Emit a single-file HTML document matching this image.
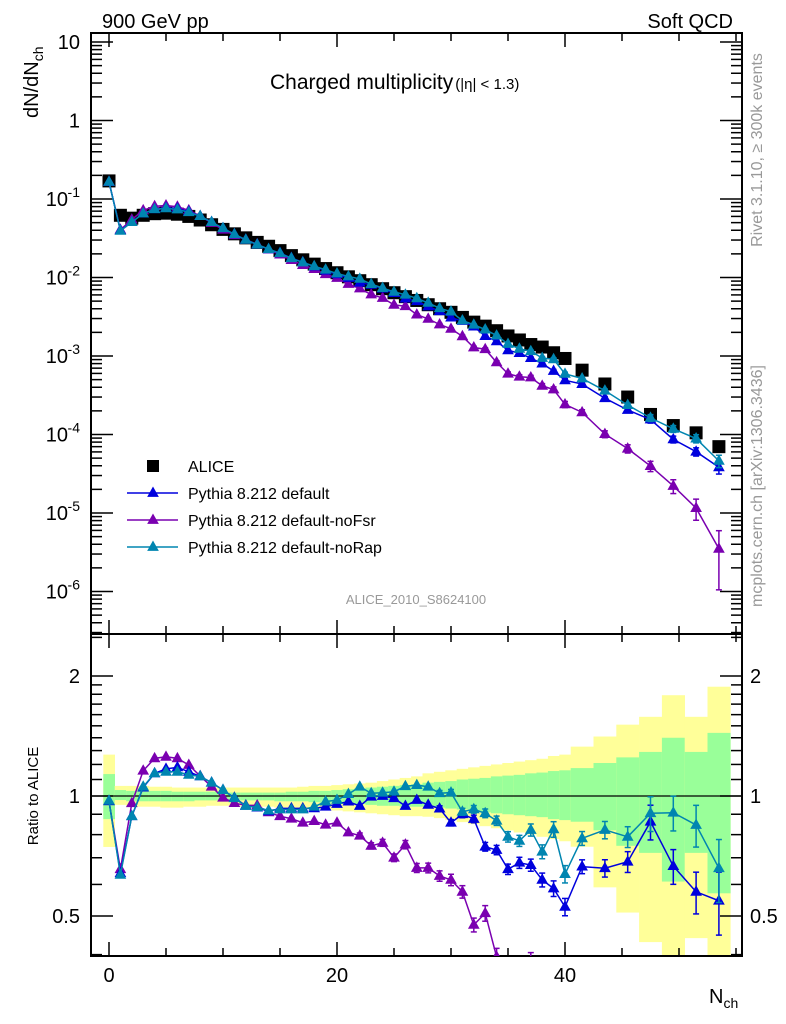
<!DOCTYPE html>
<html><head><meta charset="utf-8">
<style>
html,body{margin:0;padding:0;background:#fff;overflow:hidden;}
svg{display:block;font-family:"Liberation Sans",sans-serif;}
</style></head>
<body>
<svg id="chart" width="786" height="1024" viewBox="0 0 786 1024" xmlns="http://www.w3.org/2000/svg">
<g id="bands"></g>
<g id="grid"></g>
<g id="series"></g>
<text x="102" y="28" font-size="20">900 GeV pp</text>
<text x="733" y="28" font-size="20" text-anchor="end">Soft QCD</text>
<text x="270" y="89" font-size="21">Charged multiplicity<tspan font-size="15" dx="2">(|η| &lt; 1.3)</tspan></text>
<text transform="translate(762,150) rotate(-90)" font-size="16" fill="#999" text-anchor="middle">Rivet 3.1.10, ≥ 300k events</text>
<text transform="translate(762,486) rotate(-90)" font-size="16" fill="#999" text-anchor="middle">mcplots.cern.ch [arXiv:1306.3436]</text>
<text x="416" y="604" font-size="13" fill="#999" text-anchor="middle">ALICE_2010_S8624100</text>
<text transform="translate(38,118) rotate(-90)" font-size="20">dN/dN<tspan font-size="14" dy="5">ch</tspan></text>
<text transform="translate(38,796) rotate(-90)" font-size="15" text-anchor="middle">Ratio to ALICE</text>
<text x="709" y="1003" font-size="20">N<tspan font-size="14" dy="5">ch</tspan></text>
<g id="legend"></g>
</svg>
<script>
// ---- data ----
const nch = [0,1,2,3,4,5,6,7,8,9,10,11,12,13,14,15,16,17,18,19,20,21,22,23,24,25,26,27,28,29,30,31,32,33,34,35,36,37,38,39,40,41.5,43.5,45.5,47.5,49.5,51.5,53.5];
const binWidth = [1,1,1,1,1,1,1,1,1,1,1,1,1,1,1,1,1,1,1,1,1,1,1,1,1,1,1,1,1,1,1,1,1,1,1,1,1,1,1,1,1,2,2,2,2,2,2,2];
const alice = [0.17,0.062,0.057,0.062,0.065,0.066,0.064,0.060,0.054,0.047,0.041,0.036,0.032,0.028,0.025,0.022,0.019,0.0168,0.0148,0.013,0.0115,0.0102,0.0091,0.0081,0.0072,0.0064,0.0057,0.0051,0.0045,0.0040,0.0036,0.0031,0.0027,0.0024,0.0021,0.0018,0.0016,0.0014,0.0013,0.0011,0.00093,0.00066,0.00044,0.00030,0.00018,0.00013,0.000105,0.00007];
const ratioDefault = [0.97,0.64,0.89,1.05,1.14,1.17,1.18,1.15,1.12,1.08,1.035,0.99,0.945,0.935,0.915,0.931,0.931,0.931,0.931,0.94,0.955,0.968,0.944,0.996,1.0,0.987,0.944,0.977,0.95,0.93,0.857,0.90,0.876,0.746,0.732,0.655,0.68,0.671,0.616,0.586,0.527,0.665,0.659,0.684,0.862,0.667,0.575,0.546];
const ratioNoFsr = [0.97,0.655,0.959,1.157,1.243,1.254,1.243,1.196,1.122,1.055,0.99,0.96,0.947,0.947,0.91,0.89,0.877,0.857,0.865,0.847,0.857,0.81,0.795,0.75,0.763,0.70,0.755,0.66,0.66,0.63,0.616,0.575,0.475,0.508,0.395,0.33,0.34,0.38,0.32,0.34,0.26,0.29,0.23,0.22,0.22,0.17,0.11,0.05];
const ratioNoRap = [0.973,0.634,0.89,1.055,1.14,1.15,1.15,1.13,1.12,1.08,1.035,0.987,0.944,0.937,0.92,0.925,0.925,0.925,0.94,0.968,0.977,1.011,1.055,1.016,1.019,1.025,1.058,1.065,1.055,1.016,1.02,0.913,0.926,0.905,0.867,0.79,0.772,0.822,0.725,0.825,0.637,0.783,0.822,0.79,0.905,0.908,0.846,0.659];
const relErr = [0.005,0.005,0.005,0.005,0.005,0.005,0.005,0.005,0.005,0.005,0.005,0.005,0.005,0.006,0.006,0.006,0.007,0.007,0.008,0.008,0.009,0.01,0.01,0.011,0.012,0.012,0.013,0.014,0.015,0.016,0.018,0.02,0.022,0.025,0.027,0.03,0.032,0.035,0.04,0.045,0.05,0.04,0.05,0.06,0.1,0.1,0.12,0.18];
const relErrNoFsr = [0.005,0.005,0.005,0.005,0.005,0.005,0.005,0.005,0.005,0.005,0.005,0.006,0.006,0.007,0.008,0.008,0.009,0.01,0.011,0.012,0.013,0.015,0.016,0.018,0.02,0.022,0.024,0.026,0.028,0.03,0.033,0.036,0.04,0.045,0.05,0.055,0.06,0.065,0.07,0.08,0.09,0.08,0.1,0.12,0.15,0.2,0.3,0.7];
const yellowHi = [1.27,1.06,1.06,1.06,1.055,1.055,1.05,1.05,1.05,1.05,1.05,1.05,1.05,1.05,1.05,1.05,1.05,1.055,1.06,1.06,1.065,1.07,1.075,1.08,1.09,1.1,1.11,1.12,1.14,1.15,1.16,1.17,1.18,1.19,1.2,1.21,1.22,1.23,1.24,1.26,1.27,1.33,1.41,1.51,1.58,1.79,1.58,1.88];
const yellowLo = [0.745,0.95,0.94,0.94,0.94,0.935,0.935,0.94,0.94,0.945,0.945,0.945,0.94,0.94,0.94,0.935,0.935,0.93,0.93,0.925,0.92,0.915,0.91,0.905,0.9,0.895,0.89,0.89,0.887,0.88,0.87,0.86,0.85,0.84,0.83,0.82,0.81,0.80,0.79,0.78,0.77,0.746,0.59,0.51,0.43,0.35,0.44,0.35];
const greenHi = [1.135,1.035,1.03,1.03,1.03,1.03,1.025,1.025,1.025,1.025,1.02,1.02,1.02,1.02,1.02,1.02,1.025,1.025,1.03,1.03,1.035,1.04,1.045,1.05,1.055,1.06,1.065,1.07,1.08,1.085,1.09,1.1,1.105,1.11,1.12,1.125,1.13,1.14,1.145,1.155,1.16,1.175,1.21,1.25,1.29,1.4,1.29,1.44];
const greenLo = [0.875,0.977,0.97,0.97,0.97,0.97,0.97,0.97,0.975,0.975,0.975,0.975,0.975,0.975,0.975,0.97,0.97,0.97,0.965,0.96,0.96,0.955,0.955,0.95,0.945,0.945,0.94,0.94,0.94,0.935,0.93,0.925,0.92,0.91,0.905,0.9,0.895,0.89,0.885,0.875,0.87,0.862,0.82,0.75,0.72,0.61,0.72,0.57];
const topTickLabels = ["10","1","10","10","10","10","10","10"];
const topTickExps = ["","","-1","-2","-3","-4","-5","-6"];
const ratioTickLabels = ["0.5","1","2"];
const xTickLabels = ["0","20","40"];

// ---- axes ----
const X0=91, X1=742, TOPY0=33, TOPY1=634, RY0=634, RY1=956;
const xS = n => 109 + 11.4*n;
const yTop = v => 42 - 78.5*(Math.log10(v) - 1);
const yR = r => 796 - 398.6*Math.log10(r);
const NS="http://www.w3.org/2000/svg";
function mk(tag, attrs, parent){const e=document.createElementNS(NS,tag);for(const k in attrs)e.setAttribute(k,attrs[k]);parent.appendChild(e);return e;}
const bands=document.getElementById('bands'), grid=document.getElementById('grid'), ser=document.getElementById('series'), leg=document.getElementById('legend');

const defs=mk('defs',{},document.getElementById('chart'));
const cp=mk('clipPath',{id:'rclip'},defs);
mk('rect',{x:X0,y:RY0,width:X1-X0,height:RY1-RY0},cp);
const cpt=mk('clipPath',{id:'tclip'},defs);
mk('rect',{x:X0,y:TOPY0,width:X1-X0,height:TOPY1-TOPY0},cpt);
bands.setAttribute('clip-path','url(#rclip)');
for(let i=0;i<nch.length;i++){
  const xa=xS(nch[i]-binWidth[i]/2), xb=xS(nch[i]+binWidth[i]/2);
  const r1=mk('rect',{x:xa,y:yR(yellowHi[i]),width:xb-xa+0.3,height:yR(yellowLo[i])-yR(yellowHi[i]),fill:'#ffff99'},bands);
  
  
  const r2=mk('rect',{x:xa,y:yR(greenHi[i]),width:xb-xa+0.3,height:yR(greenLo[i])-yR(greenHi[i]),fill:'#99ff99'},bands);
  
  
}
mk('line',{x1:X0,x2:X1,y1:yR(1),y2:yR(1),stroke:'#000','stroke-width':1.2},grid);

mk('rect',{x:X0,y:TOPY0,width:X1-X0,height:TOPY1-TOPY0,fill:'none',stroke:'#000','stroke-width':2},grid);
mk('rect',{x:X0,y:RY0,width:X1-X0,height:RY1-RY0,fill:'none',stroke:'#000','stroke-width':2},grid);
for(let n=0;n<=55;n+=5){
  const x=xS(n), major=(n%20===0), L=major?14:8;
  [[TOPY1,-1],[TOPY0,1],[RY1,-1],[RY0,1]].forEach(([y,d])=>mk('line',{x1:x,x2:x,y1:y,y2:y+d*L,stroke:'#000','stroke-width':1.5},grid));
}
xTickLabels.forEach((t,i)=>{const e=mk('text',{x:xS(i*20),y:982,'font-size':20,'text-anchor':'middle'},grid);e.textContent=t;
  
  });
for(let d=1;d>=-7;d--){
  for(let m=1;m<=9;m++){
    const v=m*Math.pow(10,d), y=yTop(v);
    if(y<TOPY0||y>TOPY1) continue;
    const L=(m===1)?22:11;
    mk('line',{x1:X0,x2:X0+L,y1:y,y2:y,stroke:'#000','stroke-width':1.5},grid);
    mk('line',{x1:X1,x2:X1-L,y1:y,y2:y,stroke:'#000','stroke-width':1.5},grid);
  }
}
topTickLabels.forEach((t,i)=>{
  const y=yTop(Math.pow(10,1-i));
  const e=mk('text',{x:i<2?80:68,y:y+7,'font-size':20,'text-anchor':'end'},grid);
  e.textContent=t;
  
  
  if(topTickExps[i]){const s=mk('text',{x:80,y:y-2,'font-size':14,'text-anchor':'end'},grid);s.textContent=topTickExps[i];
    
    }
});
const rt=[0.4,0.5,0.6,0.7,0.8,0.9,1,1.1,1.2,1.3,1.4,1.5,1.6,1.7,1.8,1.9,2,2.5];
rt.forEach(r=>{const y=yR(r); if(y<RY0||y>RY1)return; const L=(r===0.5||r===1||r===2)?22:11;
  mk('line',{x1:X0,x2:X0+L,y1:y,y2:y,stroke:'#000','stroke-width':1.5},grid);
  mk('line',{x1:X1,x2:X1-L,y1:y,y2:y,stroke:'#000','stroke-width':1.5},grid);});
ratioTickLabels.forEach(t=>{const y=yR(parseFloat(t))+7;
  const a=mk('text',{x:80,y:y,'font-size':20,'text-anchor':'end'},grid);a.textContent=t;
  
  
  const b=mk('text',{x:750,y:y,'font-size':20},grid);b.textContent=t;
  
  });

function tri(g,x,y,c,s){mk('polygon',{points:`${x},${y-s} ${x-s*0.9},${y+s*0.6} ${x+s*0.9},${y+s*0.6}`,fill:c},g);}
function drawSeries(ratio,err,color,name){
  const gt=mk('g',{'clip-path':'url(#tclip)'},ser);
  
  
  const gr=mk('g',{'clip-path':'url(#rclip)'},ser);
  
  
  const ptsT=[],ptsR=[];
  ratio.forEach((r,i)=>{ptsT.push(xS(nch[i])+','+yTop(alice[i]*r));ptsR.push(xS(nch[i])+','+yR(r));});
  mk('polyline',{points:ptsT.join(' '),fill:'none',stroke:color,'stroke-width':1.5},gt);
  mk('polyline',{points:ptsR.join(' '),fill:'none',stroke:color,'stroke-width':1.5},gr);
  ratio.forEach((r,i)=>{
    const x=xS(nch[i]), v=alice[i]*r, e=err[i];
    if(e>0.015){
      const lo=Math.max(v*(1-e),1e-9);
      mk('line',{x1:x,x2:x,y1:yTop(v*(1+e)),y2:yTop(lo),stroke:color,'stroke-width':1.5},gt);
      [yTop(v*(1+e)),yTop(lo)].forEach(yy=>mk('line',{x1:x-3,x2:x+3,y1:yy,y2:yy,stroke:color,'stroke-width':1.5},gt));
      const a=yR(r*(1+e)), b=yR(r*(1-e));
      mk('line',{x1:x,x2:x,y1:a,y2:b,stroke:color,'stroke-width':1.5},gr);
      [a,b].forEach(yy=>mk('line',{x1:x-3,x2:x+3,y1:yy,y2:yy,stroke:color,'stroke-width':1.5},gr));
    }
    tri(gt,x,yTop(v),color,6.5); tri(gr,x,yR(r),color,6.5);
  });
}
const ga=mk('g',{'clip-path':'url(#tclip)'},ser);


alice.forEach((v,i)=>mk('rect',{x:xS(nch[i])-6.5,y:yTop(v)-6.5,width:13,height:13,fill:'#000'},ga));
drawSeries(ratioNoFsr,relErrNoFsr,'#7a00b0','pythia-default-nofsr');
drawSeries(ratioDefault,relErr,'#0000dd','pythia-default');
drawSeries(ratioNoRap,relErr,'#0085b0','pythia-default-norap');

const legItems=[['ALICE',null],['Pythia 8.212 default','#0000dd'],['Pythia 8.212 default-noFsr','#7a00b0'],['Pythia 8.212 default-noRap','#0085b0']];
legItems.forEach((it,i)=>{
  const y=466+27*i;
  const g=mk('g',{},leg);
  
  
  if(!it[1]) mk('rect',{x:147,y:y-6,width:12,height:12,fill:'#000'},g);
  else { mk('line',{x1:127,x2:178,y1:y,y2:y,stroke:it[1],'stroke-width':1.5},g); tri(g,153,y,it[1],6.5); }
  const t=mk('text',{x:188,y:y+6,'font-size':16},g); t.textContent=it[0];
});
</script>
</body></html>
